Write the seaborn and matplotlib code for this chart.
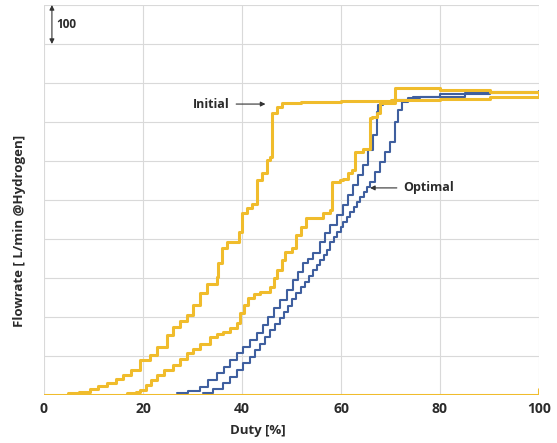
import matplotlib
matplotlib.use("Agg")
import matplotlib.pyplot as plt
import seaborn as sns
import pandas as pd

# ---- data ----
initial_duty = [4.9, 7, 9.3, 11, 12.7, 14.5, 16, 17.5, 19.4, 21.4, 22.8, 24.8, 26.1, 27.5, 28.8,
                30.2, 31.5, 33, 34.9, 35.2, 35.9, 36.9, 39.3, 39.9, 41, 42, 43, 44, 45, 45.6,
                46.1, 47, 48, 52, 60, 70, 80, 90, 100]
initial_flow = [4, 8, 15, 22, 30, 40, 51, 65, 90, 103, 124, 154, 175, 190, 205,
                230, 262, 285, 303, 338, 378, 393, 419, 466, 479, 491, 551, 568, 603, 611,
                722, 739, 748, 752, 754, 757, 760, 765, 770]

initial2_duty = [16.7, 18.5, 19.4, 20.7, 21.6, 22.8, 24.3, 26.1, 27.4, 28.8, 30.2, 31.5, 33.5, 35,
                 36.2, 37.6, 38.9, 39.6, 40.5, 41.3, 42.5, 43.6, 45.7, 46.5, 47, 48, 48.7, 50,
                 51, 52, 53, 56.4, 57.8, 58.1, 59.8, 60.5, 61.5, 62.2, 62.8, 64.5, 65.9, 66.2,
                 67.2, 67.9, 70.9, 80, 90, 100]
initial2_flow = [4, 8, 13, 26, 38, 51, 65, 77, 92, 107, 118, 132, 150, 157,
                 162, 172, 184, 209, 230, 248, 258, 265, 278, 300, 320, 345, 367, 376,
                 410, 430, 453, 466, 474, 547, 551, 555, 568, 577, 624, 632, 709, 714,
                 722, 748, 786, 782, 778, 772]

optimal1_duty = [26.8, 29, 31.5, 33.2, 34.9, 36.3, 37.6, 39, 40.3, 41.6, 43, 44.2, 45.3, 46.5,
                 47.7, 49, 50.4, 51.4, 52.4, 53.4, 54.4, 55.8, 56.8, 57.8, 59.2, 60.5, 61.5,
                 62.5, 63.5, 64.5, 65.5, 66.5, 67.2, 67.5, 68.5, 70.6, 74.6, 80, 90, 100]
optimal1_flow = [4, 10, 21, 38, 56, 73, 90, 107, 124, 141, 158, 180, 201, 222,
                 244, 270, 295, 316, 338, 350, 363, 393, 415, 436, 461, 487, 512,
                 538, 564, 590, 628, 667, 726, 744, 752, 756, 765, 771, 777, 778]

optimal2_duty = [32.2, 34.2, 36.2, 37.6, 38.9, 40.3, 41.6, 42.6, 43.6, 44.7, 45.7, 46.7, 47.7,
                 48.5, 49.3, 50.2, 51, 51.9, 52.7, 53.6, 54.4, 55.1, 55.8, 56.5, 57.1, 57.8,
                 58.5, 59.2, 59.9, 60.5, 61.2, 61.9, 62.6, 63.2, 63.9, 64.6, 65.3, 65.9,
                 66.9, 67.9, 68.9, 69.9, 70.9, 71.6, 72.3, 73.6, 76, 85, 100]
optimal2_flow = [4, 15, 30, 47, 64, 81, 98, 115, 132, 150, 167, 182, 197,
                 213, 229, 245, 261, 276, 291, 306, 321, 334, 347, 360, 372, 393,
                 405, 418, 431, 444, 457, 470, 483, 496, 508, 521, 534, 547,
                 572, 598, 624, 650, 701, 731, 752, 761, 765, 775, 780]

baseline_duty = [0, 100, 100]
baseline_flow = [0, 0, 15]

x_ticks = [0, 20, 40, 60, 80, 100]

YELLOW = "#F0BC2C"
BLUE = "#3F5F9F"
TXT = "#2b2b2b"

sns.set_theme(style="white")
plt.rcParams["font.family"] = ["Open Sans", "DejaVu Sans"]

fig = plt.figure(figsize=(5.57, 4.43), dpi=100)
ax = fig.add_axes([44 / 557, 1 - 395 / 443, 495 / 557, 390 / 443])

series = [
    (optimal1_duty, optimal1_flow, BLUE, 1.5),
    (optimal2_duty, optimal2_flow, BLUE, 1.5),
    (initial_duty, initial_flow, YELLOW, 2.2),
    (initial2_duty, initial2_flow, YELLOW, 2.2),
    (baseline_duty, baseline_flow, YELLOW, 2.2),
]
for d, f, c, lw in series:
    df = pd.DataFrame({"duty": d, "flow": f})
    sns.lineplot(data=df, x="duty", y="flow", ax=ax, color=c, linewidth=lw,
                 drawstyle="steps-post", estimator=None, sort=False)

ax.set_xlim(0, 100)
ax.set_ylim(0, 1000)
ax.set_xticks(x_ticks)
ax.set_xticklabels([str(t) for t in x_ticks], fontsize=10, fontweight="bold", color=TXT)
ax.set_yticks(range(0, 1001, 100))
ax.set_yticklabels([])
ax.tick_params(axis="both", length=0)
ax.tick_params(axis="x", pad=5)
ax.grid(True, color="#D9D9D9", linewidth=0.8)
ax.set_axisbelow(True)
for s in ax.spines.values():
    s.set_visible(False)

ax.set_xlabel("Duty [%]", fontsize=9.5, fontweight="bold", color=TXT)
ax.xaxis.set_label_coords(0.431, -0.075)
ax.set_ylabel("Flowrate [ L/min @Hydrogen]", fontsize=9.5, fontweight="bold", color=TXT)
ax.yaxis.set_label_coords(-0.036, 0.42)

arrow_kw = dict(arrowstyle="-|>", color="#333333", lw=0.8, mutation_scale=7)
ax.annotate("Initial", xy=(45.3, 746), xytext=(37.6, 746), ha="right", va="center",
            fontsize=9, fontweight="bold", color=TXT, arrowprops=arrow_kw)
ax.annotate("Optimal", xy=(65.3, 531), xytext=(72.5, 531), ha="left", va="center",
            fontsize=9, fontweight="bold", color=TXT, arrowprops=arrow_kw)

ax.annotate("", xy=(1.6, 1000), xytext=(1.6, 900),
            arrowprops=dict(arrowstyle="<|-|>", color="#333333", lw=0.8, mutation_scale=7,
                            shrinkA=0, shrinkB=0))
ax.text(2.4, 950, "100", ha="left", va="center", fontsize=8.5, fontweight="bold", color=TXT)

fig.savefig("out.png", dpi=100)
